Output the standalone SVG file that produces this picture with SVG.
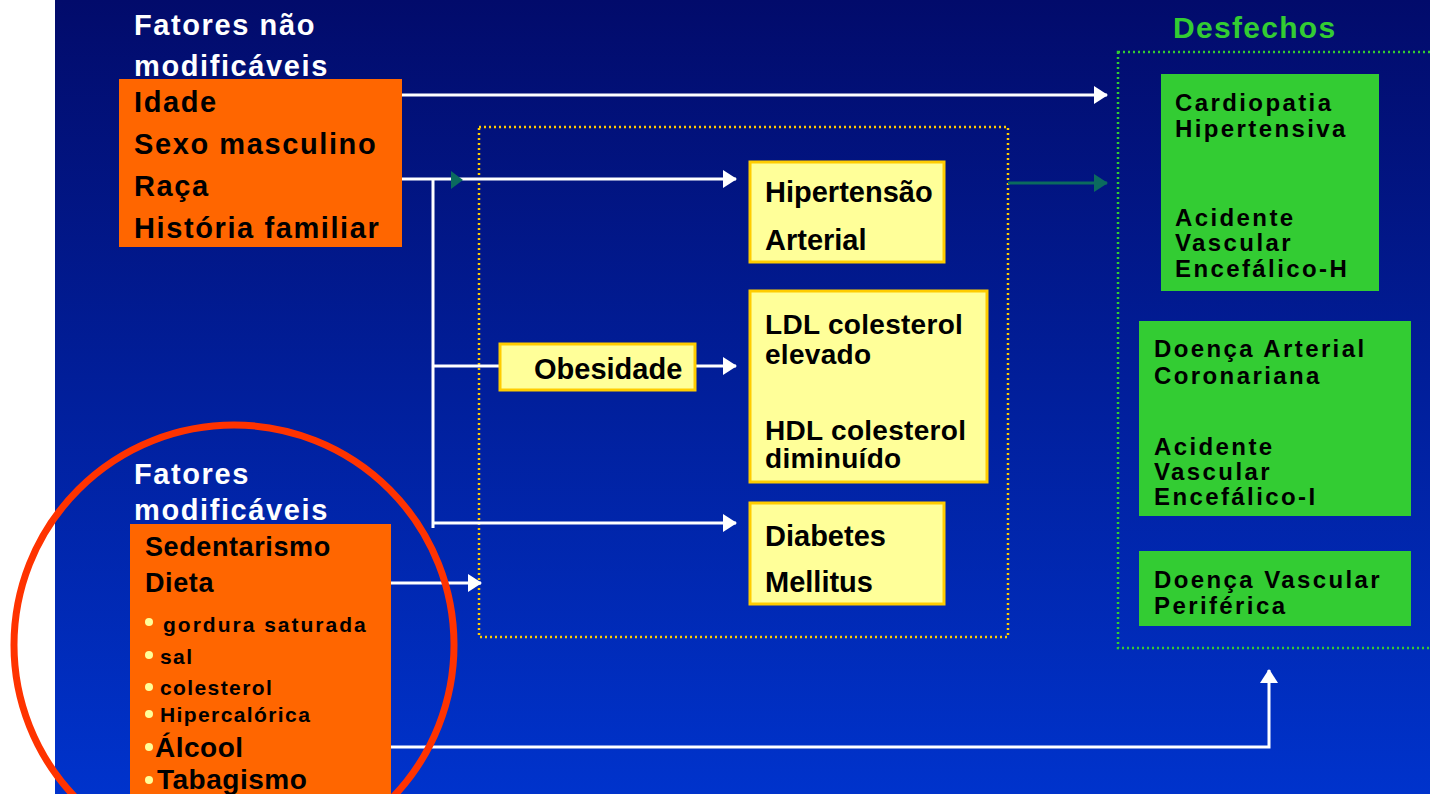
<svg xmlns="http://www.w3.org/2000/svg" width="1430" height="794" viewBox="0 0 1430 794">
<style>
text{font-family:"Liberation Sans",Arial,sans-serif;font-weight:bold;}
.w{fill:#ffffff;font-size:29px;letter-spacing:1.6px;}
.k{fill:#000000;}
.t1{font-size:29px;letter-spacing:1.6px;}
.y{font-size:29px;}
.y2{font-size:28px;letter-spacing:0.3px;}
.g{font-size:24px;letter-spacing:2.4px;}
.or{fill:#ff6600;}
.yb{fill:#ffff99;stroke:#ffcc00;stroke-width:3;}
.gb{fill:#33cc33;}
.ln{stroke:#ffffff;stroke-width:3;fill:none;}
.bul{fill:#ffff99;}
</style>
<defs>
<linearGradient id="bg" x1="0" y1="0" x2="0" y2="1">
<stop offset="0" stop-color="#020b6b"/>
<stop offset="1" stop-color="#0033cc"/>
</linearGradient>
<marker id="aw" markerWidth="14" markerHeight="18" refX="13" refY="9" orient="auto" markerUnits="userSpaceOnUse">
<path d="M0,0 L14,9 L0,18 Z" fill="#ffffff"/>
</marker>
<marker id="at" markerWidth="14" markerHeight="18" refX="13" refY="9" orient="auto" markerUnits="userSpaceOnUse">
<path d="M0,0 L14,9 L0,18 Z" fill="#0b6b5e"/>
</marker>
</defs>
<rect x="0" y="0" width="1430" height="794" fill="#ffffff"/>
<rect x="55" y="0" width="1375" height="794" fill="url(#bg)"/>

<!-- containers -->
<rect id="grupo-intermediarios" x="479" y="127" width="529" height="510" fill="none" stroke="#ffcc00" stroke-width="2.5" stroke-dasharray="2,3"/>
<g id="desfechos">
<rect x="1118" y="52" width="320" height="596" fill="none" stroke="#33cc33" stroke-width="2.5" stroke-dasharray="2,3"/>
<text x="1173" y="38" font-size="30" letter-spacing="1.3" fill="#33cc33">Desfechos</text>
</g>

<!-- connectors -->
<g id="connectors">
<line class="ln" x1="402" y1="95" x2="1107" y2="95" marker-end="url(#aw)"/>
<line class="ln" x1="402" y1="179" x2="736" y2="179" marker-end="url(#aw)"/>
<path d="M451,171 L463,180 L451,189 Z" fill="#0b6b5e"/>
<line class="ln" x1="433" y1="179" x2="433" y2="528"/>
<line class="ln" x1="433" y1="366" x2="500" y2="366"/>
<line class="ln" x1="433" y1="523" x2="736" y2="523" marker-end="url(#aw)"/>
<line class="ln" x1="695" y1="366" x2="736" y2="366" marker-end="url(#aw)"/>
<line class="ln" x1="391" y1="583" x2="481" y2="583" marker-end="url(#aw)"/>
<polyline class="ln" points="391,747 1269,747 1269,670" marker-end="url(#aw)"/>
<line x1="1008" y1="183" x2="1107" y2="183" stroke="#0b6b5e" stroke-width="3" marker-end="url(#at)"/>
</g>

<!-- fatores nao modificaveis -->
<g id="fatores-nao-modificaveis">
<text class="w" x="134" y="35">Fatores não</text>
<text class="w" x="134" y="76">modificáveis</text>
<rect class="or" x="119" y="79" width="283" height="168"/>
<text class="k t1" x="134" y="112">Idade</text>
<text class="k t1" x="134" y="154">Sexo masculino</text>
<text class="k t1" x="134" y="196">Raça</text>
<text class="k t1" x="134" y="238">História familiar</text>
</g>

<!-- fatores modificaveis -->
<g id="fatores-modificaveis">
<text class="w" x="134" y="484">Fatores</text>
<text class="w" x="134" y="520">modificáveis</text>
<rect class="or" x="130" y="524" width="261" height="270"/>
<text class="k" x="145" y="556" font-size="27" letter-spacing="0.6">Sedentarismo</text>
<text class="k" x="145" y="592" font-size="27" letter-spacing="0.6">Dieta</text>
<circle class="bul" cx="149" cy="622" r="4"/>
<text class="k" x="163" y="632" font-size="21" letter-spacing="2">gordura saturada</text>
<circle class="bul" cx="149" cy="655" r="4"/>
<text class="k" x="160" y="664" font-size="21" letter-spacing="1.4">sal</text>
<circle class="bul" cx="149" cy="687" r="4"/>
<text class="k" x="160" y="695" font-size="21" letter-spacing="1.4">colesterol</text>
<circle class="bul" cx="149" cy="714" r="4"/>
<text class="k" x="160" y="722" font-size="21" letter-spacing="1.4">Hipercalórica</text>
<circle class="bul" cx="149" cy="747" r="4"/>
<text class="k" x="155" y="757" font-size="28" letter-spacing="0.5">Álcool</text>
<circle class="bul" cx="149" cy="780" r="4"/>
<text class="k" x="157" y="789" font-size="28" letter-spacing="0.5">Tabagismo</text>
</g>
<circle id="destaque" cx="234" cy="645" r="220" fill="none" stroke="#ff3300" stroke-width="7"/>

<!-- intermediarios -->
<g id="obesidade">
<rect class="yb" x="500" y="344" width="195" height="46"/>
<text class="k y" x="534" y="379">Obesidade</text>
</g>
<g id="hipertensao">
<rect class="yb" x="750" y="162" width="194" height="100"/>
<text class="k y" x="765" y="202">Hipertensão</text>
<text class="k y" x="765" y="250">Arterial</text>
</g>
<g id="colesterol">
<rect class="yb" x="750" y="291" width="237" height="191"/>
<text class="k y2" x="765" y="334">LDL colesterol</text>
<text class="k y2" x="765" y="364">elevado</text>
<text class="k y2" x="765" y="440">HDL colesterol</text>
<text class="k y2" x="765" y="468">diminuído</text>
</g>
<g id="diabetes">
<rect class="yb" x="750" y="503" width="194" height="101"/>
<text class="k y" x="765" y="546">Diabetes</text>
<text class="k y" x="765" y="592">Mellitus</text>
</g>

<!-- desfechos -->
<g id="desfecho-1">
<rect class="gb" x="1161" y="74" width="218" height="217"/>
<text class="k g" x="1175" y="111">Cardiopatia</text>
<text class="k g" x="1175" y="137">Hipertensiva</text>
<text class="k g" x="1175" y="226">Acidente</text>
<text class="k g" x="1175" y="251">Vascular</text>
<text class="k g" x="1175" y="277">Encefálico-H</text>
</g>
<g id="desfecho-2">
<rect class="gb" x="1139" y="321" width="272" height="195"/>
<text class="k g" x="1154" y="357">Doença Arterial</text>
<text class="k g" x="1154" y="384">Coronariana</text>
<text class="k g" x="1154" y="455">Acidente</text>
<text class="k g" x="1154" y="480">Vascular</text>
<text class="k g" x="1154" y="505">Encefálico-I</text>
</g>
<g id="desfecho-3">
<rect class="gb" x="1139" y="551" width="272" height="75"/>
<text class="k g" x="1154" y="588">Doença Vascular</text>
<text class="k g" x="1154" y="614">Periférica</text>
</g>
</svg>
